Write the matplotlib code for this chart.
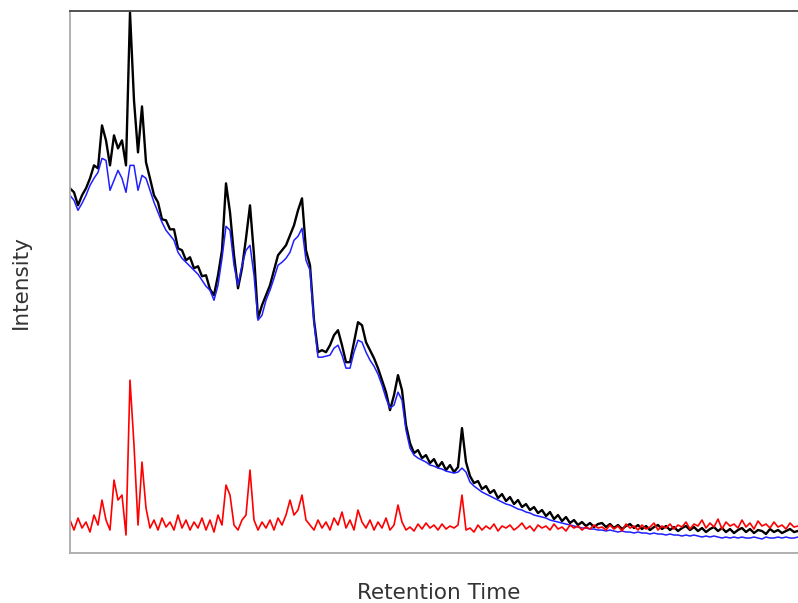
import matplotlib
matplotlib.use("Agg")
import matplotlib.pyplot as plt
import numpy as np

# ── data (arbitrary intensity units, one sample per scan) ────────────────────
raw_signal = [
    365, 361, 348, 358, 365, 375, 388, 385, 428, 413,
    388, 418, 405, 413, 388, 541, 453, 401, 447, 391,
    375, 358, 351, 334, 333, 324, 324, 305, 303, 293,
    296, 285, 287, 277, 278, 264, 258, 278, 303, 370,
    341, 298, 265, 285, 315, 348, 298, 235, 248, 258,
    268, 283, 298, 303, 308, 318, 328, 343, 355, 303,
    288, 233, 201, 203, 201, 208, 218, 223, 208, 191,
    191, 211, 231, 228, 211, 203, 195, 185, 173, 161,
    143, 158, 178, 163, 128, 110, 100, 103, 95, 98,
    90, 94, 86, 91, 83, 88, 81, 86, 125, 91,
    77, 70, 72, 64, 67, 60, 63, 55, 59, 52,
    56, 49, 53, 46, 49, 43, 46, 40, 43, 37,
    41, 34, 38, 32, 36, 30, 33, 28, 31, 27,
    30, 26, 29, 30, 26, 29, 25, 28, 24, 27,
    29, 25, 28, 24, 27, 23, 26, 28, 24, 27,
    23, 26, 22, 25, 27, 23, 26, 22, 25, 21,
    24, 26, 22, 25, 21, 24, 20, 23, 25, 21,
    24, 20, 23, 22, 19, 24, 21, 23, 20, 22,
    24, 21, 22,
]

baseline_fit = [
    358, 353, 343, 350, 358, 368, 375, 381, 395, 393,
    363, 373, 383, 375, 361, 388, 388, 363, 378, 375,
    363, 351, 341, 331, 323, 318, 313, 301, 295, 291,
    287, 283, 279, 273, 267, 263, 253, 268, 295, 327,
    323, 288, 268, 288, 303, 308, 278, 233, 238, 253,
    263, 275, 288, 291, 295, 301, 313, 317, 325, 293,
    283, 231, 196, 196, 197, 198, 205, 208, 198, 185,
    185, 201, 213, 211, 201, 193, 187, 179, 168, 155,
    145, 148, 161, 153, 123, 105, 98, 95, 93, 91,
    88, 87, 85, 84, 82, 81, 80, 81, 85, 81,
    71, 67, 64, 61, 59, 57, 55, 53, 51, 49,
    48, 46, 44, 43, 41, 40, 38, 37, 36, 35,
    33, 32, 31, 30, 29, 28, 27, 26, 25, 25,
    24, 24, 23, 23, 22, 23, 22, 21, 22, 21,
    21, 20, 21, 20, 20, 19, 20, 19, 19, 18,
    19, 18, 18, 17, 18, 17, 18, 17, 16, 17,
    16, 17, 16, 15, 16, 15, 16, 15, 16, 15,
    15, 16, 15, 14, 16, 15, 15, 16, 15, 16,
    15, 15, 16,
]

corrected = [
    33, 23, 35, 25, 31, 21, 38, 28, 53, 33,
    23, 73, 53, 58, 18, 173, 108, 28, 91, 45,
    25, 33, 23, 35, 26, 31, 23, 38, 25, 33,
    23, 31, 25, 35, 23, 33, 21, 38, 28, 68,
    58, 28, 23, 33, 38, 83, 33, 23, 31, 25,
    33, 23, 35, 28, 38, 53, 38, 43, 58, 33,
    28, 23, 33, 25, 31, 23, 35, 28, 41, 25,
    33, 23, 43, 31, 25, 33, 23, 31, 25, 35,
    23, 28, 48, 31, 23, 26, 22, 29, 24, 30,
    25, 28, 23, 29, 24, 27, 25, 28, 58, 23,
    25, 21, 28, 23, 27, 24, 29, 22, 27, 25,
    28, 23, 26, 30, 24, 27, 22, 28, 25, 27,
    23, 29, 24, 26, 22, 28, 25, 27, 23, 26,
    24, 28, 25, 26, 23, 28, 24, 27, 22, 29,
    25, 27, 23, 28, 24, 26, 30, 23, 27, 25,
    29, 24, 28, 26, 31, 24, 29, 27, 33, 25,
    30, 26, 34, 24, 31, 27, 29, 25, 33, 26,
    30, 24, 32, 27, 29, 25, 31, 26, 28, 24,
    30, 26, 27,
]

scan = np.arange(len(raw_signal))

# ── figure ───────────────────────────────────────────────────────────────────
fig = plt.figure(figsize=(7.98, 6.03), dpi=100)
ax = fig.add_axes([70 / 798, 50 / 603, 728 / 798, 542.5 / 603])

ax.plot(scan, raw_signal, color="black", lw=1.7)
ax.plot(scan, baseline_fit, color="#1f1fff", lw=1.1)
ax.plot(scan, corrected, color="#ff0000", lw=1.2)

ax.set_xlim(0, len(raw_signal) - 1)
ax.set_ylim(0, 543)
ax.set_xticks([])
ax.set_yticks([])
ax.spines["right"].set_visible(False)
ax.spines["top"].set_color("#444444")
ax.spines["left"].set_color("#aaaaaa")
ax.spines["bottom"].set_color("#aaaaaa")
for s in ax.spines.values():
    s.set_linewidth(1.3)

fig.text(439 / 798, 1 - 599 / 603, "Retention Time", ha="center", va="baseline",
         fontsize=15.5, color="#333333")
fig.text(21 / 798, 1 - 282 / 603, "Intensity", ha="center", va="center",
         rotation=90, fontsize=15.5, color="#333333")

fig.savefig("out.png", dpi=100)
